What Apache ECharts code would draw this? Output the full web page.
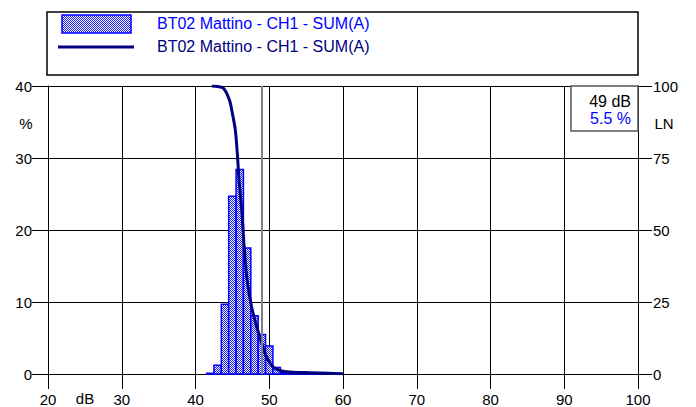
<!DOCTYPE html>
<html>
<head>
<meta charset="utf-8">
<script src="https://cdn.jsdelivr.net/npm/echarts@6/dist/echarts.min.js"></script>
<style>
html,body{margin:0;padding:0;background:#fff;}
#chart{width:696px;height:407px;}
</style>
</head>
<body>
<div id="chart"></div>
<script>
// ---- data ----
var seriesName = 'BT02 Mattino - CH1 - SUM(A)';
var barLevels = [42, 43, 44, 45, 46, 47, 48, 49, 50, 51, 52, 53, 54, 55, 56, 57, 58, 59];
var barPercent = [0.1, 1.2, 9.7, 24.7, 28.4, 17.5, 8.1, 5.5, 3.9, 0.9, 0.2, 0.15, 0.15, 0.1, 0.1, 0.1, 0.05, 0.05];
var lnLevels = [42.2, 43.0, 43.8, 44.6, 45.0, 45.4, 45.7, 45.9, 46.3, 46.6, 47.0, 47.6, 48.3, 49.0, 49.6, 50.5, 51.5, 52.8, 55.5, 58.0, 60.0];
var lnPercent = [100, 99.8, 99.2, 95.1, 90.5, 84.7, 75.5, 67.4, 55.8, 44.2, 32.6, 23.4, 16.4, 10.6, 6.0, 2.5, 1.15, 0.7, 0.45, 0.25, 0.1];
var xTicks = [20, 30, 40, 50, 60, 70, 80, 90, 100];
var yLeftTicks = [0, 10, 20, 30, 40];
var yRightTicks = [0, 25, 50, 75, 100];
var cursorLevel = 49;

// ---- pattern ----
function makePattern() {
  var c = document.createElement('canvas');
  c.width = 2; c.height = 2;
  var ctx = c.getContext('2d');
  ctx.fillStyle = '#ffffff'; ctx.fillRect(0, 0, 2, 2);
  ctx.fillStyle = '#1a1aff';
  ctx.fillRect(0, 0, 1, 1); ctx.fillRect(1, 1, 1, 1);
  return c;
}
var patCanvas = makePattern();
function pattern() { return { image: patCanvas, repeat: 'repeat' }; }

var barData = barLevels.map(function (x, i) { return [x, barPercent[i]]; });
var lnData = lnLevels.map(function (x, i) { return [x, lnPercent[i]]; });
var cursorValue = barPercent[barLevels.indexOf(cursorLevel)];

var FONT = 'Liberation Sans, Arial, sans-serif';
var chart = echarts.init(document.getElementById('chart'), null, { renderer: 'svg' });

chart.setOption({
  animation: false,
  backgroundColor: '#ffffff',
  grid: { left: 48, right: 58, top: 86, bottom: 33, containLabel: false },
  xAxis: {
    type: 'value', min: xTicks[0], max: xTicks[xTicks.length - 1], interval: 10,
    axisLine: { show: true, onZero: false, lineStyle: { color: '#000', width: 1 } },
    axisTick: { show: true, length: 15, lineStyle: { color: '#000' } },
    axisLabel: { color: '#000', fontSize: 15, fontFamily: FONT, margin: 18 },
    splitLine: { show: true, lineStyle: { color: '#000', width: 1 } }
  },
  yAxis: [
    {
      type: 'value', min: yLeftTicks[0], max: yLeftTicks[yLeftTicks.length - 1], interval: 10, position: 'left',
      axisLine: { show: true, lineStyle: { color: '#000', width: 1 } },
      axisTick: { show: true, length: 16, lineStyle: { color: '#000' } },
      axisLabel: { color: '#000', fontSize: 15, fontFamily: FONT, margin: 16 },
      splitLine: { show: true, lineStyle: { color: '#000', width: 1 } }
    },
    {
      type: 'value', min: yRightTicks[0], max: yRightTicks[yRightTicks.length - 1], interval: 25, position: 'right',
      axisLine: { show: true, lineStyle: { color: '#000', width: 1 } },
      axisTick: { show: true, length: 14, lineStyle: { color: '#000' } },
      axisLabel: { color: '#000', fontSize: 15, fontFamily: FONT, margin: 15 },
      splitLine: { show: false }
    }
  ],
  series: [
    {
      name: seriesName,
      type: 'custom',
      xAxisIndex: 0, yAxisIndex: 0,
      data: barData,
      encode: { x: 0, y: 1 },
      z: 3,
      renderItem: function (params, api) {
        var x = api.value(0), y = api.value(1);
        var p0 = api.coord([x - 0.5, y]);
        var p1 = api.coord([x + 0.5, 0]);
        return {
          type: 'rect',
          shape: { x: p0[0], y: p0[1], width: p1[0] - p0[0], height: p1[1] - p0[1] },
          style: { fill: pattern(), stroke: '#0000ff', lineWidth: 1.5 }
        };
      }
    },
    {
      name: seriesName,
      type: 'line',
      xAxisIndex: 0, yAxisIndex: 1,
      data: lnData,
      smooth: 0.3,
      showSymbol: false,
      z: 4,
      lineStyle: { color: '#000080', width: 3 },
      itemStyle: { color: '#000080' },
      markLine: {
        silent: true, symbol: 'none', animation: false,
        label: { show: false },
        lineStyle: { color: '#808080', width: 2, type: 'solid' },
        data: [{ xAxis: cursorLevel }]
      }
    }
  ],
  graphic: [
    { type: 'rect', shape: { x: 47, y: 12, width: 591, height: 63 }, style: { fill: 'none', stroke: '#000', lineWidth: 1.5 }, z: 10 },
    { type: 'rect', shape: { x: 62, y: 15, width: 69, height: 18 }, style: { fill: pattern(), stroke: '#0000ff', lineWidth: 1.5 }, z: 10 },
    { type: 'text', x: 157, y: 23, style: { text: seriesName, fill: '#0000ff', font: '16px ' + FONT, verticalAlign: 'middle', align: 'left' }, z: 10 },
    { type: 'line', shape: { x1: 58, y1: 47, x2: 134, y2: 47 }, style: { stroke: '#000080', lineWidth: 3 }, z: 10 },
    { type: 'text', x: 157, y: 46, style: { text: seriesName, fill: '#000080', font: '16px ' + FONT, verticalAlign: 'middle', align: 'left' }, z: 10 },
    { type: 'rect', shape: { x: 571, y: 86, width: 67, height: 45 }, style: { fill: '#fff', stroke: '#555', lineWidth: 1.5 }, z: 10 },
    { type: 'text', x: 631, y: 101, style: { text: cursorLevel + ' dB', fill: '#000', font: '16px ' + FONT, verticalAlign: 'middle', align: 'right' }, z: 11 },
    { type: 'text', x: 631, y: 118, style: { text: cursorValue + ' %', fill: '#0000ff', font: '16px ' + FONT, verticalAlign: 'middle', align: 'right' }, z: 11 },
    { type: 'text', x: 26, y: 123, style: { text: '%', fill: '#000', font: '15px ' + FONT, verticalAlign: 'middle', align: 'center' }, z: 10 },
    { type: 'text', x: 664, y: 123, style: { text: 'LN', fill: '#000', font: '15px ' + FONT, verticalAlign: 'middle', align: 'center' }, z: 10 },
    { type: 'text', x: 85, y: 398, style: { text: 'dB', fill: '#000', font: '15px ' + FONT, verticalAlign: 'middle', align: 'center' }, z: 10 }
  ]
});
</script>
</body>
</html>
